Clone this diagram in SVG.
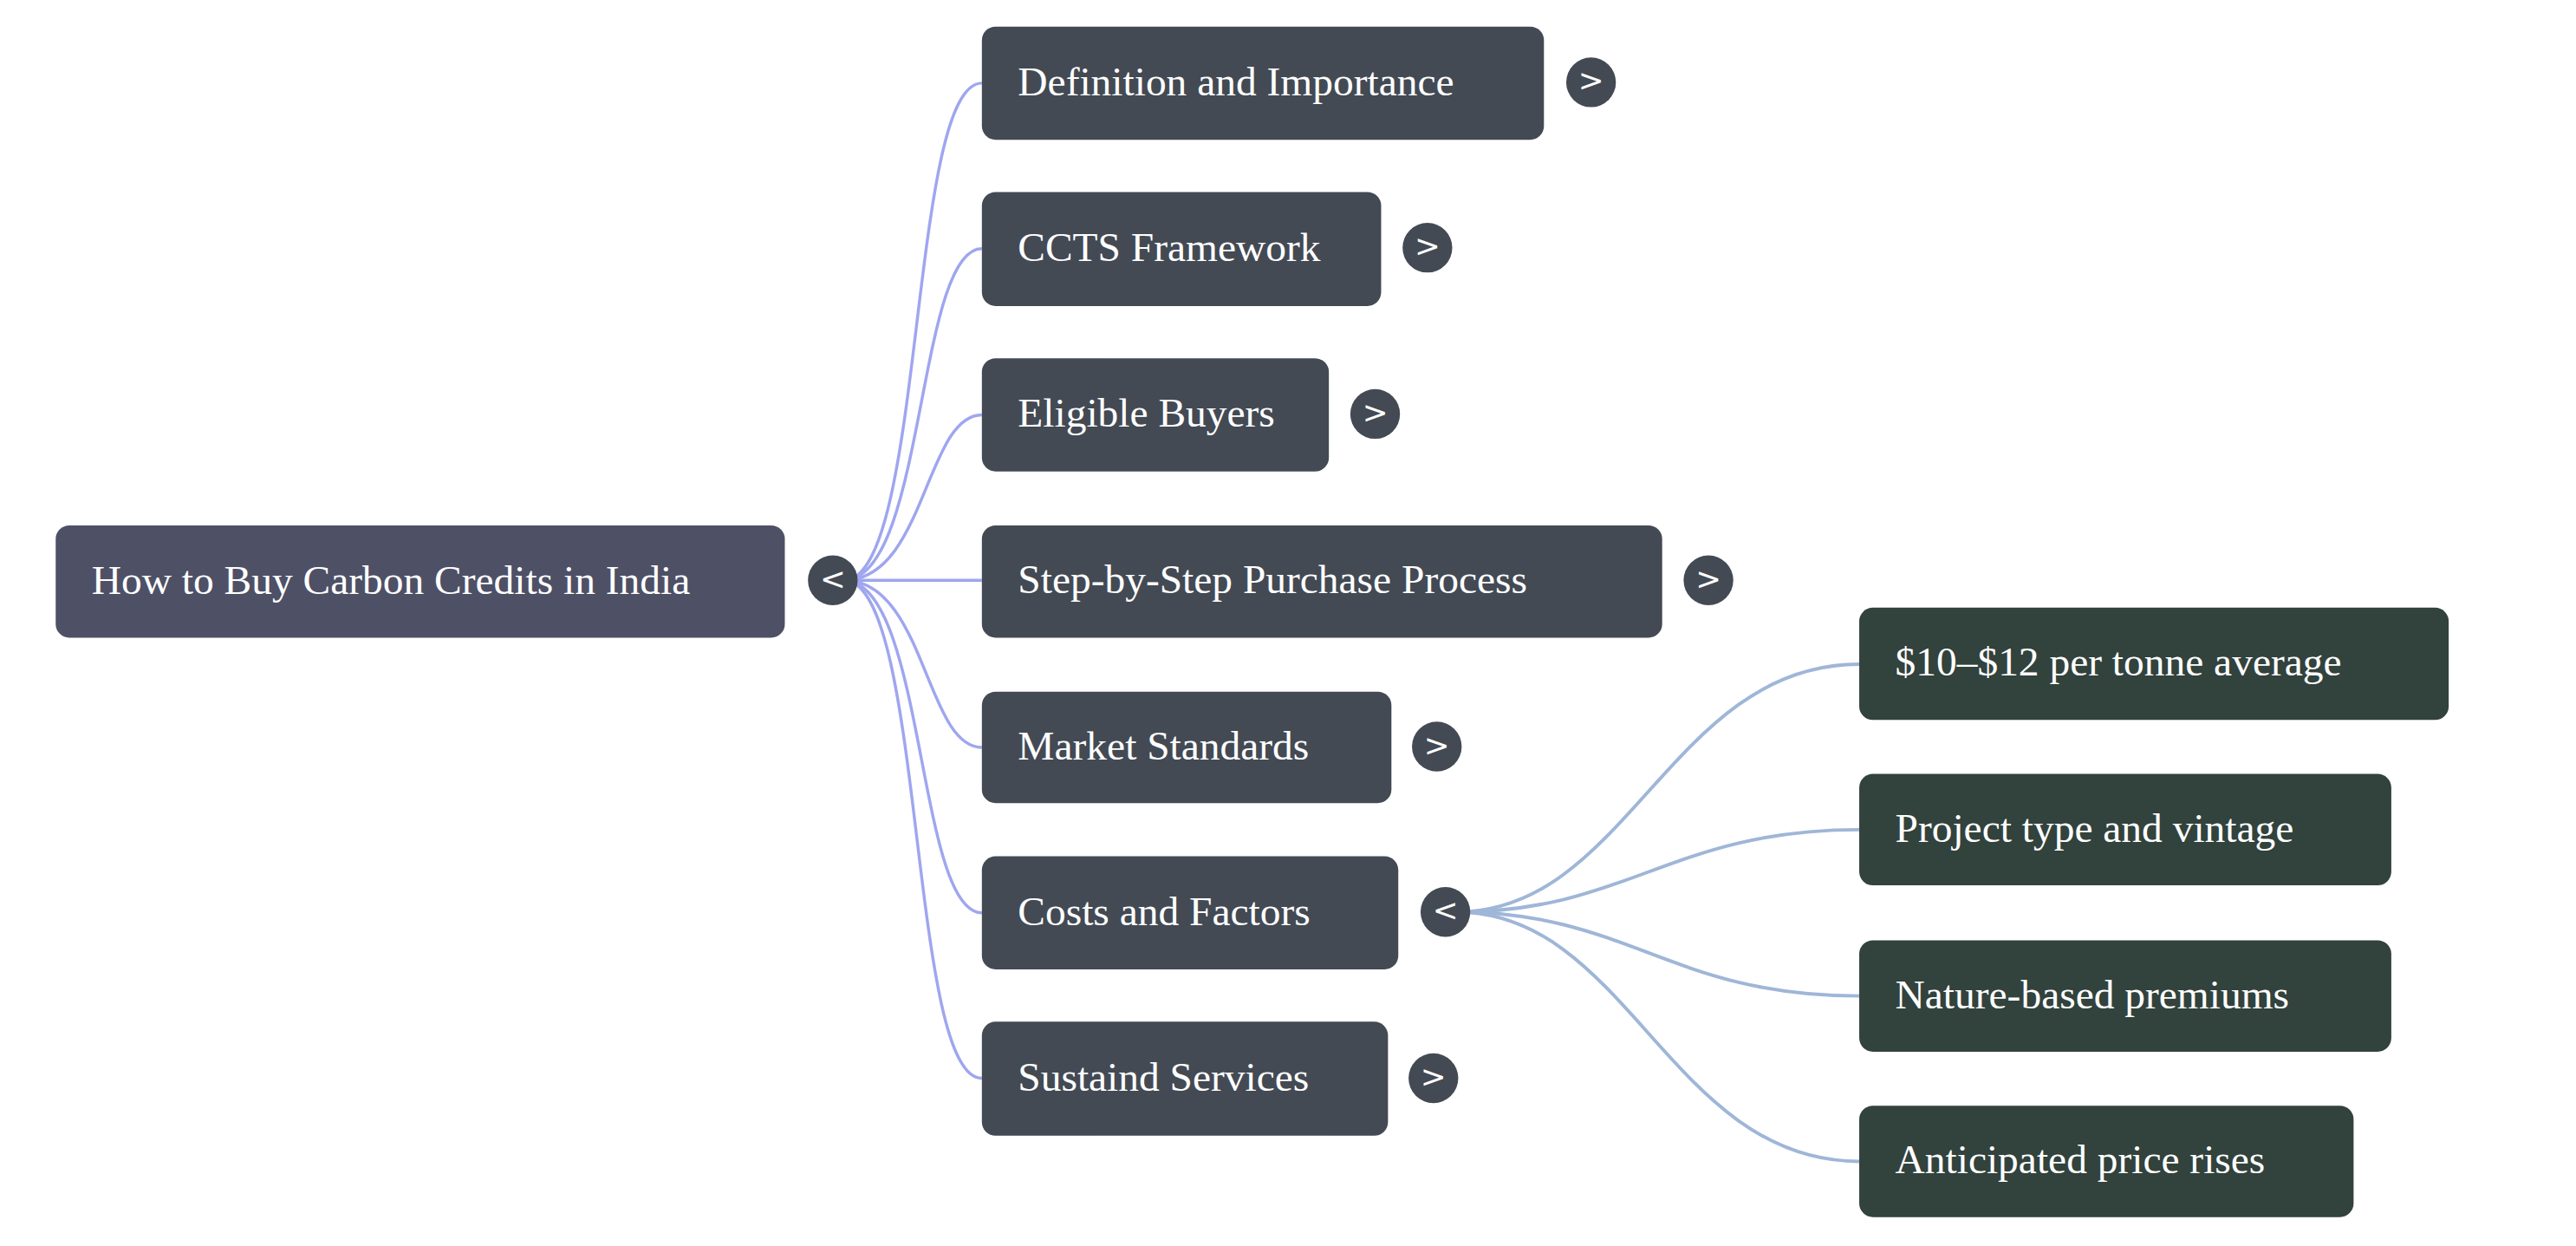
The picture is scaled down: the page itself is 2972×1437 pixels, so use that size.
<svg xmlns="http://www.w3.org/2000/svg" width="2972" height="1437" viewBox="0 0 2972 1437">
<style>
text{font-family:"Liberation Serif","Times New Roman",serif;font-size:48px;fill:#fff;dominant-baseline:central}
.l1{fill:#434a54}.l2{fill:#32423d}.root{fill:#4e5066}
.btn circle{fill:#434a54}.btn text{font-family:"DejaVu Sans",sans-serif;font-size:36px;text-anchor:middle}
.c1{fill:none;stroke:#9fa6ef;stroke-width:3.5}.c2{fill:none;stroke:#9fb6d8;stroke-width:4}
</style>
<rect width="2972" height="1437" fill="#fff"/>
<g transform="scale(0.9885)">
<g id="connectors">
<path class="c1" d="M985 677 C1080 677 1060 97 1146 97"/>
<path class="c1" d="M985 677 C1080 677 1070 290 1146 290"/>
<path class="c1" d="M985 677 C1080 677 1080 484 1146 484"/>
<path class="c1" d="M985 677 L1146 677"/>
<path class="c1" d="M985 677 C1080 677 1080 872 1146 872"/>
<path class="c1" d="M985 677 C1080 677 1070 1065 1146 1065"/>
<path class="c1" d="M985 677 C1080 677 1060 1258 1146 1258"/>
<path class="c2" d="M1700 1064 C1900 1064 1950 775 2170 775"/>
<path class="c2" d="M1700 1064 C1900 1064 1950 968 2170 968"/>
<path class="c2" d="M1700 1064 C1900 1064 1950 1162 2170 1162"/>
<path class="c2" d="M1700 1064 C1900 1064 1950 1355 2170 1355"/>
</g>
<g id="root"><rect class="root" x="65" y="613" width="851" height="131" rx="16"/><text x="107" y="677">How to Buy Carbon Credits in India</text></g>
<g id="root-btn" class="btn"><circle cx="972" cy="677" r="29"/><text x="972" y="675">&lt;</text></g>
<g id="n1"><rect class="l1" x="1146" y="31" width="656" height="132" rx="16"/><text x="1188" y="95">Definition and Importance</text></g>
<g id="n1-btn" class="btn"><circle cx="1857" cy="96" r="29"/><text x="1857" y="94">&gt;</text></g>
<g id="n2"><rect class="l1" x="1146" y="224" width="466" height="133" rx="16"/><text x="1188" y="288">CCTS Framework</text></g>
<g id="n2-btn" class="btn"><circle cx="1666" cy="289" r="29"/><text x="1666" y="287">&gt;</text></g>
<g id="n3"><rect class="l1" x="1146" y="418" width="405" height="132" rx="16"/><text x="1188" y="482">Eligible Buyers</text></g>
<g id="n3-btn" class="btn"><circle cx="1605" cy="483" r="29"/><text x="1605" y="481">&gt;</text></g>
<g id="n4"><rect class="l1" x="1146" y="613" width="794" height="131" rx="16"/><text x="1188" y="676">Step-by-Step Purchase Process</text></g>
<g id="n4-btn" class="btn"><circle cx="1994" cy="677" r="29"/><text x="1994" y="675">&gt;</text></g>
<g id="n5"><rect class="l1" x="1146" y="807" width="478" height="130" rx="16"/><text x="1188" y="870">Market Standards</text></g>
<g id="n5-btn" class="btn"><circle cx="1677" cy="871" r="29"/><text x="1677" y="869">&gt;</text></g>
<g id="n6"><rect class="l1" x="1146" y="999" width="486" height="132" rx="16"/><text x="1188" y="1063">Costs and Factors</text></g>
<g id="n6-btn" class="btn"><circle cx="1687" cy="1064" r="29"/><text x="1687" y="1062">&lt;</text></g>
<g id="n7"><rect class="l1" x="1146" y="1192" width="474" height="133" rx="16"/><text x="1188" y="1256">Sustaind Services</text></g>
<g id="n7-btn" class="btn"><circle cx="1673" cy="1258" r="29"/><text x="1673" y="1256">&gt;</text></g>
<g id="m1"><rect class="l2" x="2170" y="709" width="688" height="131" rx="16"/><text x="2212" y="772">$10–$12 per tonne average</text></g>
<g id="m2"><rect class="l2" x="2170" y="903" width="621" height="130" rx="16"/><text x="2212" y="966">Project type and vintage</text></g>
<g id="m3"><rect class="l2" x="2170" y="1097" width="621" height="130" rx="16"/><text x="2212" y="1160">Nature-based premiums</text></g>
<g id="m4"><rect class="l2" x="2170" y="1290" width="577" height="130" rx="16"/><text x="2212" y="1353">Anticipated price rises</text></g>
</g>
</svg>
